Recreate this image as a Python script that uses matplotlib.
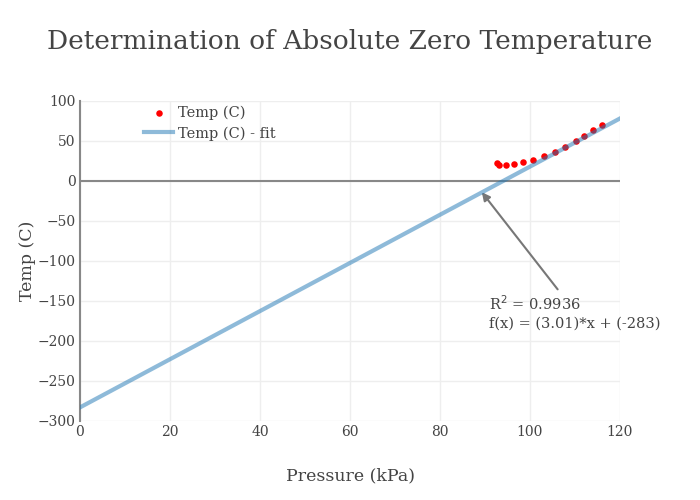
import matplotlib
matplotlib.use("Agg")
import matplotlib.pyplot as plt
import numpy as np

plt.rcParams['font.family'] = ['DejaVu Serif']

# measured points
pressure = [92.6, 93.2, 94.7, 96.4, 98.5, 100.6, 103.2, 105.6, 107.8, 110.2, 112.1, 114.1, 115.9]
temp = [22.9, 20.0, 20.0, 21.2, 23.4, 26.7, 31.2, 36.7, 42.9, 49.6, 56.7, 63.3, 70.0]

# linear fit shown on the chart
slope = 3.01
intercept = -283
r2 = 0.9936
fit_x = [0, 120]

text_col = '#444444'

fig = plt.figure(figsize=(7, 5), dpi=100)
ax = fig.add_axes([80 / 700, 79 / 500, 540 / 700, 320 / 500])

ax.scatter(pressure, temp, s=22, color='red', zorder=3, label='Temp (C)', linewidths=0)
fit_y = [slope * x + intercept for x in fit_x]
ax.plot(fit_x, fit_y, color='#1f77b4', alpha=0.5, lw=3, zorder=4, label='Temp (C) - fit')

ax.set_xlim(0, 120)
ax.set_ylim(-300, 100)
ax.set_xticks(np.arange(0, 121, 20))
ax.set_yticks(np.arange(-300, 101, 50))
ax.grid(True, color='#eeeeee', lw=1)
ax.set_axisbelow(True)
ax.axhline(0, color='#888888', lw=1.5, zorder=2)
for s in ['top', 'right', 'bottom']:
    ax.spines[s].set_visible(False)
ax.spines['left'].set_color('#888888')
ax.spines['left'].set_linewidth(1.5)
ax.tick_params(length=0, labelsize=10, colors=text_col, pad=3)

ax.set_xlabel('Pressure (kPa)', fontsize=12.5, color=text_col, labelpad=20)
ax.set_ylabel('Temp (C)', fontsize=12.5, color=text_col, labelpad=1)
fig.suptitle('Determination of Absolute Zero Temperature', fontsize=19, color=text_col, y=0.943)

ax.annotate(f'R$^2$ = {r2}\nf(x) = ({slope})*x + ({intercept})',
            xy=(89.3, -14.0), xytext=(90.9, -141), textcoords='data',
            fontsize=10.5, color=text_col, ha='left', va='top', linespacing=1.4,
            arrowprops=dict(arrowstyle='-|>', color='#777777', lw=1.5,
                            mutation_scale=12, shrinkA=0, shrinkB=0,
                            relpos=(0.4, 1.12)))

leg = ax.legend(loc='upper left', bbox_to_anchor=(0.108, 1.005), frameon=False,
                fontsize=10.5, labelcolor=text_col, handlelength=2.0,
                handletextpad=0.35, borderaxespad=0, labelspacing=0.45)

fig.savefig('out.png', dpi=100)
